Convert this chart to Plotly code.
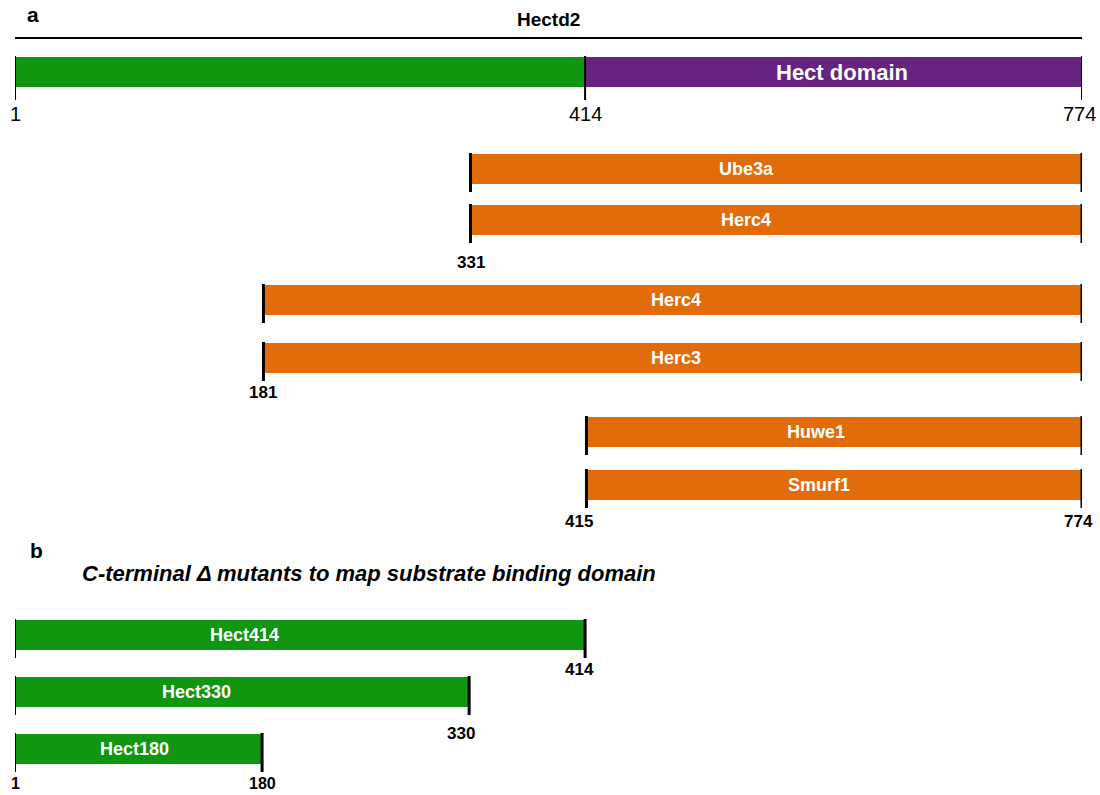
import plotly.graph_objects as go

# Hectd2 full-length protein
protein_name = "Hectd2"
protein_len = 774
hect_start = 414
hect_label = "Hect domain"

# Hectd2 fragments aligned to other HECT E3 ligases (panel a)
partners = ["Ube3a", "Herc4", "Herc4", "Herc3", "Huwe1", "Smurf1"]
partner_start = [331, 331, 181, 181, 415, 415]
partner_end = [774, 774, 774, 774, 774, 774]

# C-terminal deletion mutants (panel b)
mutants = ["Hect414", "Hect330", "Hect180"]
mutant_start = [1, 1, 1]
mutant_end = [414, 330, 180]

# ---- layout (pixel rows on a 1100x795 canvas) ----
W, H = 1100, 795
X0_PX, X1_PX = 15, 1082
BAR_H = 30
top_row = 72
partner_rows = [169, 220, 300, 358, 432, 485]
partner_label_shift = [-30, -30, 3, 3, -18, -15]
partner_num_dy = {1: 42, 3: 34, 5: 36}
mutant_rows = [635, 692, 749]
mutant_label_shift = [-56, -46, -4]

GREEN = "#109610"
PURPLE = "#66237f"
ORANGE = "#e36c0a"
FONT = "Liberation Sans, Arial, sans-serif"

fig = go.Figure()


def add_bar(start, end, row, color):
    fig.add_trace(go.Bar(
        orientation="h", base=[start], x=[end - start], y=[row],
        width=BAR_H, marker=dict(color=color, line=dict(width=0)),
        hoverinfo="skip", showlegend=False,
    ))


def add_tick(xv, row, width=3, below=8):
    fig.add_shape(type="line", xref="x", yref="y",
                  x0=xv, x1=xv, y0=row - BAR_H / 2 - 1, y1=row + BAR_H / 2 + below,
                  line=dict(color="black", width=width))


def add_text(xv, yv, text, size=17, bold=True, color="black", xshift=0):
    t = f"<b>{text}</b>" if bold else text
    fig.add_annotation(x=xv, y=yv, xref="x", yref="y", text=t, showarrow=False,
                       xanchor="center", yanchor="middle", xshift=xshift,
                       font=dict(family=FONT, size=size, color=color))


# Panel a: full-length Hectd2
add_bar(1, hect_start, top_row, GREEN)
add_bar(hect_start, protein_len, top_row, PURPLE)
for v in (1, hect_start, protein_len):
    add_tick(v, top_row, width=2, below=13)
    add_text(v, top_row + 42, str(v), size=20, bold=False,
             xshift=-3 if v == protein_len else 0)
add_text((hect_start + protein_len) / 2, top_row, hect_label, size=22,
         color="white", xshift=8)
fig.add_shape(type="line", xref="x", yref="y", x0=1, x1=protein_len, y0=38, y1=38,
              line=dict(color="black", width=2))
add_text((1 + protein_len) / 2, 19, protein_name, size=19)

# Panel a: partner alignments
for i, (name, s, e, row) in enumerate(zip(partners, partner_start, partner_end, partner_rows)):
    add_bar(s, e, row, ORANGE)
    add_tick(s, row)
    add_tick(e, row)
    add_text((s + e) / 2, row, name, size=18, color="white",
             xshift=partner_label_shift[i])
    # residue numbers under the second row of each pair
    if i in partner_num_dy:
        dy = partner_num_dy[i]
        if i == len(partners) - 1:
            add_text(s, row + dy, str(s), xshift=-7)
            add_text(e, row + dy, str(e), xshift=-4)
        else:
            add_text(s, row + dy, str(s))

# Panel b: deletion mutants
for i, (name, s, e, row) in enumerate(zip(mutants, mutant_start, mutant_end, mutant_rows)):
    add_bar(s, e, row, GREEN)
    add_tick(s, row, width=2)
    add_tick(e, row)
    add_text((s + e) / 2, row, name, size=18, color="white",
             xshift=mutant_label_shift[i])
add_text(mutant_end[0], mutant_rows[0] + 34, str(mutant_end[0]), xshift=-6)
add_text(mutant_end[1], mutant_rows[1] + 41, str(mutant_end[1]), xshift=-8)
add_text(mutant_end[2], mutant_rows[2] + 34, str(mutant_end[2]), size=16)
add_text(mutant_start[2], mutant_rows[2] + 34, str(mutant_start[2]), size=16)

# panel letters and subtitle (paper coordinates)
for letter, px, py in (("a", 33, 15), ("b", 36, 550)):
    fig.add_annotation(x=px / W, y=1 - py / H, xref="paper", yref="paper",
                       text=f"<b>{letter}</b>", showarrow=False,
                       xanchor="center", yanchor="middle",
                       font=dict(family=FONT, size=21, color="black"))
fig.add_annotation(x=80 / W, y=1 - 573 / H, xref="paper", yref="paper",
                   text="<b><i>C-terminal Δ mutants to map substrate binding domain</i></b>",
                   showarrow=False, xanchor="left", yanchor="middle",
                   font=dict(family=FONT, size=22, color="black"))

fig.update_layout(
    width=W, height=H, margin=dict(l=0, r=0, t=0, b=0),
    paper_bgcolor="white", plot_bgcolor="white",
    barmode="overlay", bargap=0,
    xaxis=dict(range=[1, protein_len], domain=[X0_PX / W, X1_PX / W],
               visible=False, fixedrange=True),
    yaxis=dict(range=[H, 0], domain=[0, 1], visible=False, fixedrange=True),
    showlegend=False,
)

fig.write_html("out.html")
